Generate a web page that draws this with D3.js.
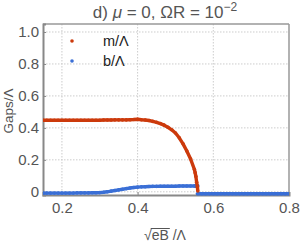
<!DOCTYPE html>
<html><head><meta charset="utf-8">
<script src="https://cdn.jsdelivr.net/npm/d3@7"></script>
<style>body{margin:0;background:#fff}svg{display:block}text{font-family:"Liberation Sans",Arial,sans-serif}</style>
</head><body><svg id="c" width="300" height="245"></svg>
<script>
const xVals = [0.15,0.16,0.17,0.18,0.19,0.20,0.21,0.22,0.23,0.24,0.25,0.26,0.27,0.28,0.29,0.30,0.31,0.32,0.33,0.34,0.35,0.36,0.37,0.38,0.39,0.40,0.41,0.42,0.43,0.44,0.45,0.46,0.47,0.48,0.49,0.50,0.51,0.52,0.53,0.54,0.55,0.552,0.554,0.556,0.558,0.559];
const mVals = [0.448,0.448,0.448,0.448,0.448,0.448,0.448,0.448,0.448,0.448,0.448,0.448,0.448,0.448,0.448,0.448,0.449,0.449,0.449,0.450,0.450,0.450,0.450,0.451,0.452,0.454,0.451,0.449,0.446,0.441,0.435,0.427,0.417,0.404,0.388,0.368,0.338,0.300,0.255,0.205,0.140,0.120,0.095,0.060,0.030,0.005];
const bVals = [-0.008,-0.008,-0.008,-0.008,-0.008,-0.008,-0.008,-0.008,-0.008,-0.007,-0.007,-0.007,-0.007,-0.006,-0.006,-0.005,-0.003,0.000,0.004,0.008,0.012,0.016,0.020,0.024,0.027,0.029,0.031,0.032,0.033,0.034,0.034,0.035,0.035,0.035,0.035,0.035,0.036,0.036,0.036,0.036,0.036,0.036,0.037,0.037,0.037,0.037];
const xHigh = [0.558,0.57,0.58,0.59,0.60,0.61,0.62,0.63,0.64,0.65,0.66,0.67,0.68,0.69,0.70,0.71,0.72,0.73,0.74,0.75,0.76,0.77,0.78,0.79,0.80];
const bHigh = [-0.012,-0.012,-0.012,-0.012,-0.012,-0.012,-0.012,-0.012,-0.012,-0.012,-0.012,-0.012,-0.012,-0.012,-0.012,-0.012,-0.012,-0.012,-0.012,-0.012,-0.012,-0.012,-0.012,-0.012,-0.012];
const xTicks = [0.2,0.4,0.6,0.8];
const yTicks = [0,0.2,0.4,0.6,0.8,1.0];
const yTickLabels = ["0","0.2","0.4","0.6","0.8","1.0"];
const legendLabels = ["m/Λ","b/Λ"];

const red = "#cc3a0c", blue = "#3a6fd6", gray = "#555";
const svg = d3.select("#c");
const L = 43, R = 289, T = 24, B = 195;
const x = d3.scaleLinear().domain([0.15,0.8]).range([L,R]);
const y = d3.scaleLinear().domain([-0.02,1.05]).range([B,T]);

// grid
const g = svg.append("g");
g.selectAll(".gx").data(xTicks.filter(v=>v<0.8)).join("line")
  .attr("x1",d=>x(d)).attr("x2",d=>x(d)).attr("y1",T).attr("y2",B)
  .attr("stroke","#ccc").attr("stroke-width",1).attr("stroke-dasharray","1.5,1.5");
g.selectAll(".gy").data(yTicks).join("line")
  .attr("x1",L).attr("x2",R).attr("y1",d=>y(d)).attr("y2",d=>y(d))
  .attr("stroke","#ccc").attr("stroke-width",1).attr("stroke-dasharray","1.5,1.5");

// frame top/right
svg.append("line").attr("x1",L).attr("x2",R).attr("y1",T).attr("y2",T).attr("stroke","#999").attr("stroke-width",1.5);
svg.append("line").attr("x1",R).attr("x2",R).attr("y1",T).attr("y2",B).attr("stroke","#999").attr("stroke-width",1.5);

// axes
const xa = svg.append("g").attr("transform",`translate(0,${B})`)
  .call(d3.axisBottom(x).tickValues(xTicks).tickSize(-3).tickPadding(7).tickFormat(d3.format(".1f")));
const ya = svg.append("g").attr("transform",`translate(${L},0)`)
  .call(d3.axisLeft(y).tickValues(yTicks).tickSize(-3).tickPadding(4).tickFormat((d,i)=>yTickLabels[i]));
[xa,ya].forEach(a=>{
  a.select(".domain").attr("stroke","#888").attr("stroke-width",2);
  a.selectAll(".tick line").attr("stroke","#888");
  a.selectAll(".tick text").attr("fill",gray).style("font-size","15px").attr("font-family","Liberation Sans, Arial, sans-serif");
});

// data
const line = d3.line().x(d=>x(d[0])).y(d=>y(d[1]));
const mPts = xVals.map((v,i)=>[v,mVals[i]]);
const bPts = xVals.map((v,i)=>[v,bVals[i]]);
const bHighPts = xHigh.map((v,i)=>[v,bHigh[i]]);
const clip = svg.append("defs").append("clipPath").attr("id","cp").append("rect")
  .attr("x",L).attr("y",T).attr("width",R-L).attr("height",B-T+3);
const dg = svg.append("g").attr("clip-path","url(#cp)");
[[bPts,blue],[bHighPts,blue],[mPts,red]].forEach(([pts,c])=>{
  dg.append("path").datum(pts).attr("d",line).attr("fill","none").attr("stroke",c).attr("stroke-width",3.4).attr("stroke-linejoin","round");
  dg.selectAll(null).data(pts).join("circle").attr("cx",d=>x(d[0])).attr("cy",d=>y(d[1])).attr("r",1.8).attr("fill",c);
});

// legend
[red,blue].forEach((c,i)=>{
  svg.append("circle").attr("cx",72).attr("cy",41+20*i).attr("r",1.8).attr("fill",c);
  svg.append("text").attr("x",103).attr("y",46+20*i).attr("fill","#222").style("font-size","14.5px").text(legendLabels[i]);
});

// title
const t = svg.append("text").attr("x",165).attr("y",18).attr("text-anchor","middle").attr("fill",gray).style("font-size","17px");
t.append("tspan").text("d) ");
t.append("tspan").attr("font-style","italic").text("μ");
t.append("tspan").text(" = 0, ΩR = 10");
t.append("tspan").attr("dy",-7).style("font-size","12px").text("−2");

// y label
svg.append("text").attr("transform","translate(13,111) rotate(-90)").attr("text-anchor","middle")
  .attr("fill",gray).style("font-size","13.5px").text("Gaps/Λ");

// x label
const xl = svg.append("g");
const xt = xl.append("text").attr("x",144).attr("y",240).attr("fill",gray).style("font-size","14px");
xt.append("tspan").text("√");
const eb = xt.append("tspan").text("eB");
xt.append("tspan").text(" /Λ");
const nodes = xt.selectAll("tspan").nodes();
const s = nodes[1].getStartPositionOfChar(0), e = nodes[1].getEndPositionOfChar(1);
xl.append("line").attr("x1",s.x-1).attr("x2",e.x+1).attr("y1",228.5).attr("y2",228.5).attr("stroke",gray).attr("stroke-width",1);
</script></body></html>
